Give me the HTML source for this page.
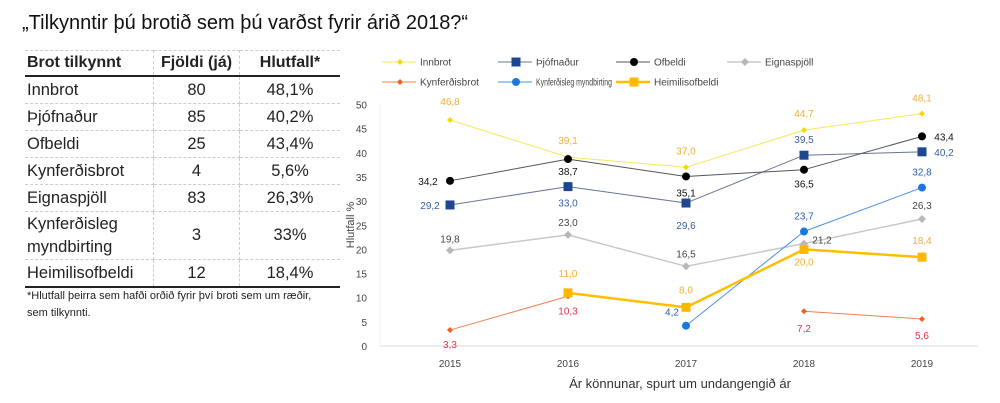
<!DOCTYPE html>
<html><head><meta charset="utf-8"><style>
body{margin:0;width:1000px;height:403px;background:#fff;font-family:"Liberation Sans",sans-serif;overflow:hidden;position:relative}
#title{position:absolute;left:22px;top:12px;font-size:20px;color:#111}
table{position:absolute;left:25px;top:50px;border-collapse:collapse;width:315px;font-size:16.5px;color:#222}
td,th{border-right:1px dashed #ccc;border-bottom:1px dashed #ccc;padding:0 2px;height:26px}
th{height:24px;text-align:left;font-weight:bold;font-size:16px;border-bottom:2px solid #222;border-top:1px dashed #ccc}
td:last-child,th:last-child{border-right:none}
tr:last-child td{border-bottom:2px solid #222}
.c{text-align:center}
#note{position:absolute;left:27px;top:288px;font-size:11px;line-height:17px;color:#222}
</style></head><body>
<div id="title">„Tilkynntir þú brotið sem þú varðst fyrir árið 2018?“</div>
<table>
<tr><th style="width:124px">Brot tilkynnt</th><th class="c" style="width:81px">Fjöldi (já)</th><th class="c">Hlutfall*</th></tr>
<tr><td>Innbrot</td><td class="c">80</td><td class="c">48,1%</td></tr>
<tr><td>Þjófnaður</td><td class="c">85</td><td class="c">40,2%</td></tr>
<tr><td>Ofbeldi</td><td class="c">25</td><td class="c">43,4%</td></tr>
<tr><td>Kynferðisbrot</td><td class="c">4</td><td class="c">5,6%</td></tr>
<tr><td>Eignaspjöll</td><td class="c">83</td><td class="c">26,3%</td></tr>
<tr><td style="height:47px;line-height:23px">Kynferðisleg myndbirting</td><td class="c">3</td><td class="c">33%</td></tr>
<tr><td>Heimilisofbeldi</td><td class="c">12</td><td class="c">18,4%</td></tr>
</table>
<div id="note">*Hlutfall þeirra sem hafði orðið fyrir því broti sem um ræðir,<br>sem tilkynnti.</div>
<svg id="chart" width="1000" height="403" style="position:absolute;left:0;top:0"></svg>
<script>
const years=["2015","2016","2017","2018","2019"];
const yTicks=[0,5,10,15,20,25,30,35,40,45,50];
const innbrot=[46.8,39.1,37.0,44.7,48.1];
const thjofnadur=[29.2,33.0,29.6,39.5,40.2];
const ofbeldi=[34.2,38.7,35.1,36.5,43.4];
const eignaspjoll=[19.8,23.0,16.5,21.2,26.3];
const kynferdisbrot=[3.3,10.3,null,7.2,5.6];
const myndbirting=[null,null,4.2,23.7,32.8];
const heimilisofbeldi=[null,11.0,8.0,20.0,18.4];
const names=["Innbrot","Þjófnaður","Ofbeldi","Eignaspjöll","Kynferðisbrot","Kynferðisleg myndbirting","Heimilisofbeldi"];

const NS="http://www.w3.org/2000/svg",svg=document.getElementById('chart');
const X=i=>450+i*118, Y=v=>346-v*4.83;
function mk(t,a,p){const e=document.createElementNS(NS,t);for(const k in a)e.setAttribute(k,a[k]);(p||svg).appendChild(e);return e;}
function fmt(v){return v.toFixed(1).replace('.',',');}
let ax=mk('line',{x1:380,y1:Y(0),x2:978,y2:Y(0),stroke:'#d9d9d9'});


let ay=mk('line',{x1:380,y1:Y(0),x2:380,y2:Y(50),stroke:'#f0f0f0'});


yTicks.forEach(t=>{const e=mk('text',{x:367,y:Y(t)+4,'text-anchor':'end','font-size':10,fill:'#444'});e.textContent=t;

});
years.forEach((y,i)=>{const e=mk('text',{x:X(i),y:367,'text-anchor':'middle','font-size':10,fill:'#444'});e.textContent=y;

});
let yt=mk('text',{x:0,y:0,transform:'translate(354,225) rotate(-90)','text-anchor':'middle','font-size':11,fill:'#444'});yt.textContent='Hlutfall %';


let xt=mk('text',{x:680,y:388,'text-anchor':'middle','font-size':13,fill:'#333'});xt.textContent='Ár könnunar, spurt um undangengið ár';



function marker(g,type,x,y,c,s){
 if(type==='d')mk('path',{d:`M${x} ${y-s}L${x+s} ${y}L${x} ${y+s}L${x-s} ${y}Z`,fill:c},g);
 else if(type==='s')mk('rect',{x:x-s,y:y-s,width:2*s,height:2*s,fill:c},g);
 else mk('circle',{cx:x,cy:y,r:s,fill:c},g);
}
const series=[
 {d:innbrot,lc:'#f7e65a',mc:'#f5d800',m:'d',ms:3,w:1,lab:'#f0b030',off:[-15,-13,-13,-13,-12],dx:[0,0,0,0,0]},
 {d:thjofnadur,lc:'#6b7590',mc:'#1f4690',m:'s',ms:4.5,w:1,lab:'#3a5fa0',off:[4,20,26,-12,4],dx:[-20,0,0,0,22]},
 {d:ofbeldi,lc:'#555',mc:'#000',m:'c',ms:4,w:1,lab:'#111',off:[4,16,20,18,4],dx:[-22,0,0,0,22]},
 {d:eignaspjoll,lc:'#c8c8c8',mc:'#b8b8b8',m:'d',ms:4,w:1.5,lab:'#444',off:[-8,-9,-9,0,-10],dx:[0,0,0,18,0]},
 {d:kynferdisbrot,lc:'#f08050',mc:'#f06020',m:'d',ms:3,w:1,lab:'#e8304a',off:[18,18,0,21,20],dx:[0,0,0,0,0]},
 {d:myndbirting,lc:'#4a90e0',mc:'#1a78e0',m:'c',ms:4,w:1,lab:'#2a5fb0',off:[0,0,-10,-12,-12],dx:[0,0,-14,0,0]},
 {d:heimilisofbeldi,lc:'#ffbf00',mc:'#ffb800',m:'s',ms:4.5,w:2.5,lab:'#f0b030',off:[0,-16,-14,16,-13],dx:[0,0,0,0,0]}
];
series.forEach((s,si)=>{
 const g=mk('g',{});
 
 
 for(let i=0;i<s.d.length-1;i++){if(s.d[i]==null||s.d[i+1]==null)continue;
  mk('line',{x1:X(i),y1:Y(s.d[i]),x2:X(i+1),y2:Y(s.d[i+1]),stroke:s.lc,'stroke-width':s.w},g);}
 s.d.forEach((v,i)=>{if(v==null)return;marker(g,s.m,X(i),Y(v),s.mc,s.ms);
  const t=mk('text',{x:X(i)+s.dx[i],y:Y(v)+s.off[i],'text-anchor':'middle','font-size':10,fill:s.lab},g);t.textContent=fmt(v);
  
  });
 const lx=[398,514,632,743,398,514,632][si], ly=si<4?62:82;
 const lg=mk('g',{});
 
 
 mk('line',{x1:lx-16,y1:ly,x2:lx+18,y2:ly,stroke:s.lc,'stroke-width':s.w},lg);
 marker(lg,s.m,lx+2,ly,s.mc,s.ms);
 const la={x:lx+22,y:ly+3.5,'font-size':10,fill:'#444'};
 if(si===5){la.textLength=76;la.lengthAdjust='spacingAndGlyphs';}
 const lt=mk('text',la,lg);lt.textContent=names[si];
});
</script>
</body></html>
